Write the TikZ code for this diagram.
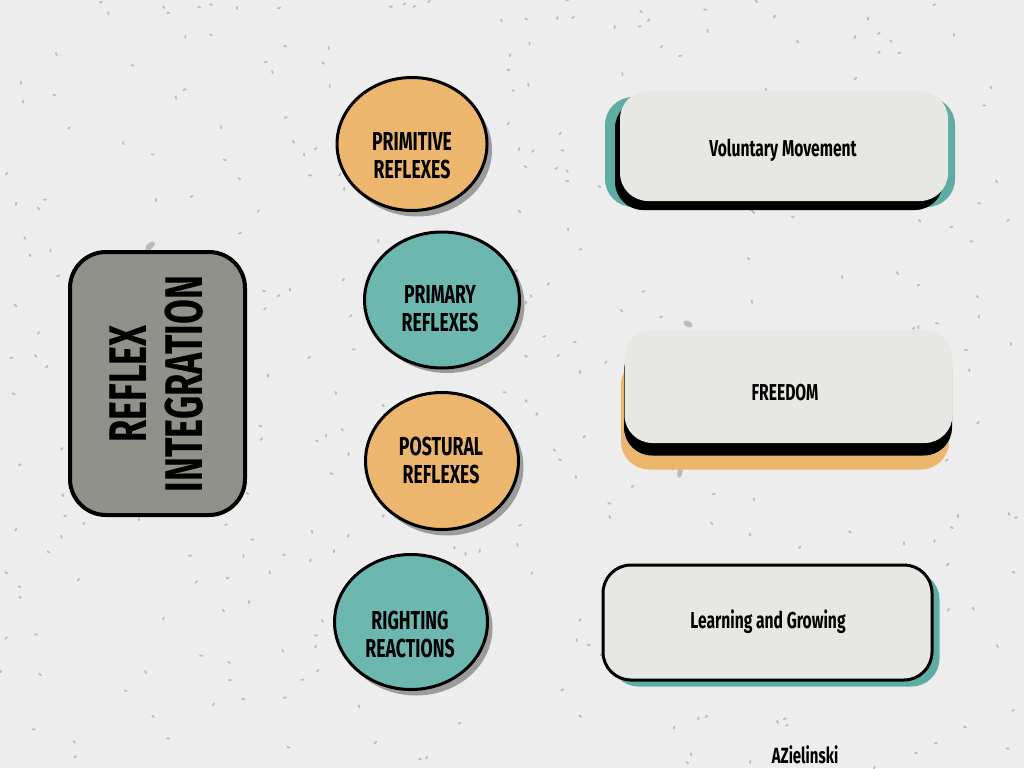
\documentclass[tikz,border=0pt]{standalone}
\usepackage{tikz}
\usepackage{xcolor}
\usepackage{fontspec}
\setmainfont{Fira Sans}[FakeStretch=0.68]
\usetikzlibrary{shapes.geometric}

\definecolor{paper}{HTML}{EDEDED}
\definecolor{speck}{HTML}{BBBBBB}
\definecolor{blobshade}{HTML}{9C9C9C}
\definecolor{warm}{HTML}{EDB66E}
\definecolor{sea}{HTML}{6CB8B0}
\definecolor{seashade}{HTML}{5EADA5}
\definecolor{slate}{HTML}{91918C}
\definecolor{card}{HTML}{E7E7E3}

\tikzset{
	blob/.style={ellipse,draw=black,line width=3pt,inner sep=0pt,
		minimum width=150pt,minimum height=133pt},
	blobback/.style={ellipse,fill=blobshade,inner sep=0pt,
		minimum width=150pt,minimum height=133pt},
	blobtext/.style={align=center,font=\bfseries\fontsize{26}{28}\selectfont},
	cardbox/.style={rounded corners=28pt,fill=card,inner sep=0pt,
		minimum width=328pt,minimum height=110pt},
	cardback/.style={rounded corners=28pt,inner sep=0pt,
		minimum width=328pt,minimum height=110pt},
	cardtext/.style={font=\bfseries\fontsize{23}{26}\selectfont},
}

\begin{document}
		\begin{tikzpicture}[x=1pt,y=-1pt]
			\fill[paper] (0,0) rectangle (1024,768);
			\useasboundingbox (0,0) rectangle (1024,768);
			% speckles
			\pgfmathsetseed{11}
			\foreach \i in {1,...,380}
			{
				\pgfmathsetmacro{\px}{rnd*1024}
				\pgfmathsetmacro{\py}{rnd*768}
				\pgfmathsetmacro{\pa}{rnd*180}
				\fill[speck,rotate around={\pa:(\px,\py)}] (\px,\py) ellipse (2 and 1);
			}
			\fill[speck,rotate around={40:(150,246)}] (150,246) ellipse (6 and 3);
			\fill[speck,rotate around={-30:(688,324)}] (688,324) ellipse (5 and 3);
			\fill[speck,rotate around={80:(680,472)}] (680,472) ellipse (6 and 2.5);

			% title
			\node[draw=black,line width=4pt,fill=slate,rounded corners=36pt,
				minimum width=175pt,minimum height=263pt] (title) at (157.5,383.5) {};
			\node[rotate=90,align=center,font=\bfseries\fontsize{53}{56}\selectfont] (titletext) at (157,384)
			{REFLEX\\INTEGRATION};

			% reflexes
			\node[blobback] (primitiveback) at (417,150) {};
			\node[blob,fill=warm] (primitive) at (412,144) {};
			\node[blobtext] (primitivetext) at (412,156) {PRIMITIVE\\REFLEXES};
			\node[blobback,minimum width=155pt,minimum height=136pt] (primaryback) at (447,305) {};
			\node[blob,fill=sea,minimum width=155pt,minimum height=136pt] (primary) at (442,300) {};
			\node[blobtext] (primarytext) at (440,308.5) {PRIMARY\\REFLEXES};
			\node[blobback,minimum width=153pt,minimum height=137pt] (posturalback) at (447,467) {};
			\node[blob,fill=warm,minimum width=153pt,minimum height=137pt] (postural) at (442,461) {};
			\node[blobtext] (posturaltext) at (441,460) {POSTURAL\\REFLEXES};
			\node[blobback,minimum width=153pt,minimum height=135pt] (rightingback) at (416,628) {};
			\node[blob,fill=sea,minimum width=153pt,minimum height=135pt] (righting) at (411,622) {};
			\node[blobtext] (rightingtext) at (410,634.5) {RIGHTING\\REACTIONS};

			% outcomes
			\node[cardback,fill=seashade,minimum width=350pt] (voluntaryteal) at (780,152) {};
			\node[cardback,fill=black] (voluntaryblack) at (779,155) {};
			\node[cardbox] (voluntary) at (784,146) {};
			\node[cardtext] (voluntarytext) at (783,150) {Voluntary Movement};

			\node[cardback,fill=warm,minimum height=113pt] (freedomwarm) at (785,413) {};
			\node[cardback,fill=black,minimum height=113pt] (freedomblack) at (788,399) {};
			\node[cardbox,minimum height=113pt] (freedom) at (788.5,386.5) {};
			\node[cardtext] (freedomtext) at (785,393) {FREEDOM};

			\node[cardback,fill=seashade,minimum width=329pt,minimum height=115pt] (learningteal) at (775,629) {};
			\node[cardbox,draw=black,line width=3pt,minimum width=329pt,minimum height=115pt] (learning) at (767.5,622.5) {};
			\node[cardtext] (learningtext) at (768,622) {Learning and Growing};

			\node[font=\bfseries\fontsize{22}{24}\selectfont] (signature) at (805,755) {AZielinski};
		\end{tikzpicture}
\end{document}
